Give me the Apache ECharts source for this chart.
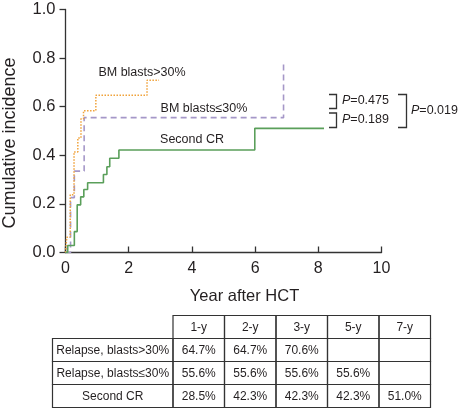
<!DOCTYPE html>
<html>
<head>
<meta charset="utf-8">
<script src="https://cdn.jsdelivr.net/npm/echarts@6/dist/echarts.min.js"></script>
<style>html,body{margin:0;padding:0;background:#fff;}#c{width:459px;height:410px;}</style>
</head>
<body>
<div id="c"></div>
<script>
// Step curves: [year, cumulative incidence]
var blastsHigh = [[0,0],[0.04,0.063],[0.15,0.238],[0.27,0.414],[0.39,0.471],[0.49,0.55],[0.57,0.583],[0.96,0.647],[2.58,0.709],[2.96,0.709]];
var blastsLow = [[0,0],[0.16,0.226],[0.28,0.335],[0.59,0.555],[6.90,0.775]];
var secondCR = [[0,0],[0.07,0.029],[0.28,0.086],[0.37,0.196],[0.48,0.229],[0.58,0.259],[0.70,0.287],[1.20,0.321],[1.31,0.353],[1.40,0.388],[1.69,0.422],[5.99,0.511],[8.18,0.511]];
var seriesNames = ['BM blasts>30%','BM blasts\u226430%','Second CR'];
var pValues = ['0.475','0.189','0.019'];
var tableCols = ['1-y','2-y','3-y','5-y','7-y'];
var tableRows = ['Relapse, blasts>30%','Relapse, blasts\u226430%','Second CR'];
var tableVals = [
  ['64.7%','64.7%','70.6%','',''],
  ['55.6%','55.6%','55.6%','55.6%',''],
  ['28.5%','42.3%','42.3%','42.3%','51.0%']
];

var FONT = 'Liberation Sans, Arial, sans-serif';
var TXT = '#231f20';
var chart = echarts.init(document.getElementById('c'));

var graphic = [];
function txt(x, y, s, size, align, extra) {
  var o = {type:'text', x:x, y:y, style:{text:s, fill:TXT, font: size + 'px ' + FONT, textAlign: align || 'left', textVerticalAlign:'middle'}};
  if (extra) for (var k in extra) o.style[k] = extra[k];
  graphic.push(o);
}
// curve labels
txt(142, 73, seriesNames[0], 12.5, 'center');
txt(204, 109, seriesNames[1], 12.5, 'center');
txt(192, 140, seriesNames[2], 12.5, 'center');
// brackets
function bracket(x1, x2, y1, y2) {
  graphic.push({type:'polyline', shape:{points:[[x1,y1],[x2,y1],[x2,y2],[x1,y2]]}, style:{stroke:'#333', lineWidth:1.3, fill:null}});
}
bracket(329, 336.5, 94.5, 108.5);
bracket(329, 336.5, 113, 127.5);
bracket(398, 406.5, 94.5, 127.5);
function ptext(x, y, v) {
  graphic.push({type:'text', x:x, y:y, style:{
    text:'{i|P}=' + v, fill:TXT, font:'12.5px ' + FONT, textVerticalAlign:'middle',
    rich:{i:{fontStyle:'italic', fontSize:12.5, fontFamily:FONT, fill:TXT}}
  }});
}
ptext(342, 101, pValues[0]);
ptext(342, 120, pValues[1]);
ptext(411, 111, pValues[2]);

// table
var tLeft = 52.5, firstW = 120.5, colW = 51.5, rowTops = [315.5, 338.5, 361.5, 384.5], rowH = 23;
for (var r = 0; r < 4; r++) {
  for (var c = 0; c < 6; c++) {
    if (r === 0 && c === 0) continue;
    var x = c === 0 ? tLeft : tLeft + firstW + (c - 1) * colW;
    var w = c === 0 ? firstW : colW;
    var y = rowTops[r];
    graphic.push({type:'rect', shape:{x:x, y:y, width:w, height:rowH}, style:{fill:'none', stroke:'#333', lineWidth:1.2}});
    var s = r === 0 ? tableCols[c - 1] : (c === 0 ? tableRows[r - 1] : tableVals[r - 1][c - 1]);
    if (s) txt(x + w / 2, y + rowH / 2 + 0.5, s, 12, 'center');
  }
}

var option = {
  backgroundColor: '#fff',
  animation: false,
  grid: {left: 65.5, right: 77.5, top: 9.5, bottom: 157.5, containLabel: false, outerBoundsMode: 'none'},
  xAxis: {
    type:'value', min:0, max:10, interval:2,
    name:'Year after HCT', nameLocation:'middle', nameGap:35,
    nameTextStyle:{fontSize:16.5, color:TXT, fontFamily:FONT, padding:[0,0,0,42]},
    axisLine:{lineStyle:{color:'#333', width:1.3}},
    axisTick:{inside:true, length:6, lineStyle:{color:'#333', width:1.3}},
    axisLabel:{fontSize:16, color:TXT, fontFamily:FONT, margin:8},
    splitLine:{show:false}
  },
  yAxis: {
    type:'value', min:0, max:1, interval:0.2,
    name:'Cumulative incidence', nameLocation:'middle', nameGap:46, nameRotate:90,
    nameTextStyle:{fontSize:18, color:TXT, fontFamily:FONT, padding:[0,24,0,0]},
    axisLine:{show:true, lineStyle:{color:'#333', width:1.3}},
    axisTick:{show:true, length:6, lineStyle:{color:'#333', width:1.3}},
    axisLabel:{fontSize:16.5, color:TXT, fontFamily:FONT, margin:10, formatter:function(v){return v.toFixed(1);}},
    splitLine:{show:false}
  },
  series: [
    {name:seriesNames[0], type:'line', step:'end', data:blastsHigh, showSymbol:false, lineStyle:{color:'#f0a23a', width:1.5, type:[1.5,1.5]}, z:3},
    {name:seriesNames[1], type:'line', step:'end', data:blastsLow, showSymbol:false, lineStyle:{color:'#a597c8', width:1.6, type:[6,4]}, z:2},
    {name:seriesNames[2], type:'line', step:'end', data:secondCR, showSymbol:false, lineStyle:{color:'#5a9f5a', width:1.6}, z:4}
  ],
  graphic: graphic
};
chart.setOption(option);
</script>
</body>
</html>
